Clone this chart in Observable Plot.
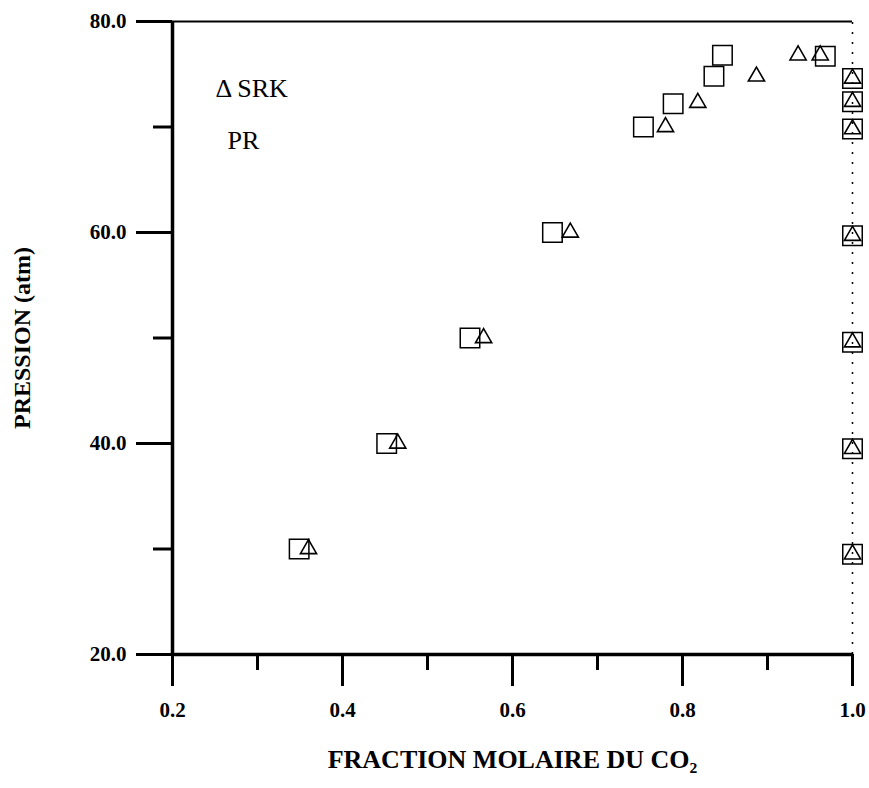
<!DOCTYPE html>
<html><head><meta charset="utf-8">
<script src="https://cdn.jsdelivr.net/npm/d3@7"></script>
<script src="https://cdn.jsdelivr.net/npm/@observablehq/plot@0.6"></script>
<style>body{margin:0;background:#fff}</style>
</head><body><div id="chart"></div>
<script>
// SRK (triangles)
const srkX = [0.360, 0.465, 0.566, 0.668, 0.780, 0.818, 0.887, 0.936, 0.962, 1.0, 1.0, 1.0, 1.0, 1.0, 1.0, 1.0];
const srkP = [30, 40, 50, 60, 70, 72.3, 74.8, 76.8, 76.8, 29.5, 39.5, 49.6, 59.7, 69.8, 72.4, 74.6];
// PR (squares)
const prX = [0.349, 0.452, 0.550, 0.647, 0.754, 0.789, 0.837, 0.847, 0.968, 1.0, 1.0, 1.0, 1.0, 1.0, 1.0, 1.0];
const prP = [30, 40, 50, 60, 70, 72.2, 74.8, 76.8, 76.7, 29.5, 39.5, 49.6, 59.7, 69.8, 72.4, 74.6];

const xMajor = [0.2, 0.4, 0.6, 0.8, 1.0];
const xMinor = [0.3, 0.5, 0.7, 0.9];
const yMajor = [20, 40, 60, 80];
const yMinor = [30, 50, 70];

const legendLabels = ["\u0394 SRK", "PR"];
const xTitle = "FRACTION MOLAIRE DU CO\u2082";
const yTitle = "PRESSION (atm)";

const srk = srkX.map((x, i) => ({x, p: srkP[i]}));
const pr = prX.map((x, i) => ({x, p: prP[i]}));

const font = "'Liberation Serif', 'Times New Roman', serif";

const chart = Plot.plot({
  width: 869,
  height: 788,
  marginLeft: 172,
  marginRight: 17,
  marginTop: 21,
  marginBottom: 134,
  x: {domain: [0.2, 1.0]},
  y: {domain: [20, 80]},
  style: {fontFamily: font, background: "#fff", color: "#000"},
  marks: [
    Plot.ruleY([80], {x1: 0.2, x2: 1.0, strokeWidth: 1.8}),
    Plot.ruleX([1.0], {y1: 20, y2: 80, strokeWidth: 1.5, strokeDasharray: "2,8"}),
    Plot.axisX({ticks: xMajor, tickSize: 32, tickPadding: 16, tickFormat: d3.format(".1f"),
      strokeWidth: 3, fontSize: 21, fontWeight: "bold", label: null}),
    Plot.axisX({ticks: xMinor, tickSize: 16, text: null, strokeWidth: 3, label: null}),
    Plot.axisY({ticks: yMajor, tickSize: 36, tickPadding: 10, tickFormat: d3.format(".1f"),
      strokeWidth: 3, fontSize: 21, fontWeight: "bold", label: null}),
    Plot.axisY({ticks: yMinor, tickSize: 19, text: null, strokeWidth: 3, label: null}),
    Plot.ruleX([0.2], {y1: 20, y2: 80, strokeWidth: 3.5}),
    Plot.ruleY([20], {x1: 0.2, x2: 1.0, strokeWidth: 3.5}),
    Plot.dot(pr, {x: "x", y: "p", symbol: "square", r: 11, stroke: "#000", strokeWidth: 1.5, fill: "none"}),
    Plot.dot(srk, {x: "x", y: "p", symbol: "triangle", r: 6, stroke: "#000", strokeWidth: 1.6, fill: "none"}),
    Plot.text([legendLabels[0]], {frameAnchor: "top-left", dx: 43, dy: 75, lineAnchor: "bottom", textAnchor: "start",
      fontSize: 26, fill: "#000"}),
    Plot.text([legendLabels[1]], {frameAnchor: "top-left", dx: 55, dy: 127, lineAnchor: "bottom", textAnchor: "start",
      fontSize: 26, fill: "#000"}),
    Plot.text([xTitle], {frameAnchor: "bottom", dy: 113, lineAnchor: "bottom", textAnchor: "middle",
      fontSize: 26, fontWeight: "bold", fill: "#000"}),
    Plot.text([yTitle], {frameAnchor: "left", dx: -150, rotate: -90, lineAnchor: "middle", textAnchor: "middle",
      fontSize: 24, fontWeight: "bold", fill: "#000"})
  ]
});
document.getElementById("chart").append(chart);
</script>
</body></html>
